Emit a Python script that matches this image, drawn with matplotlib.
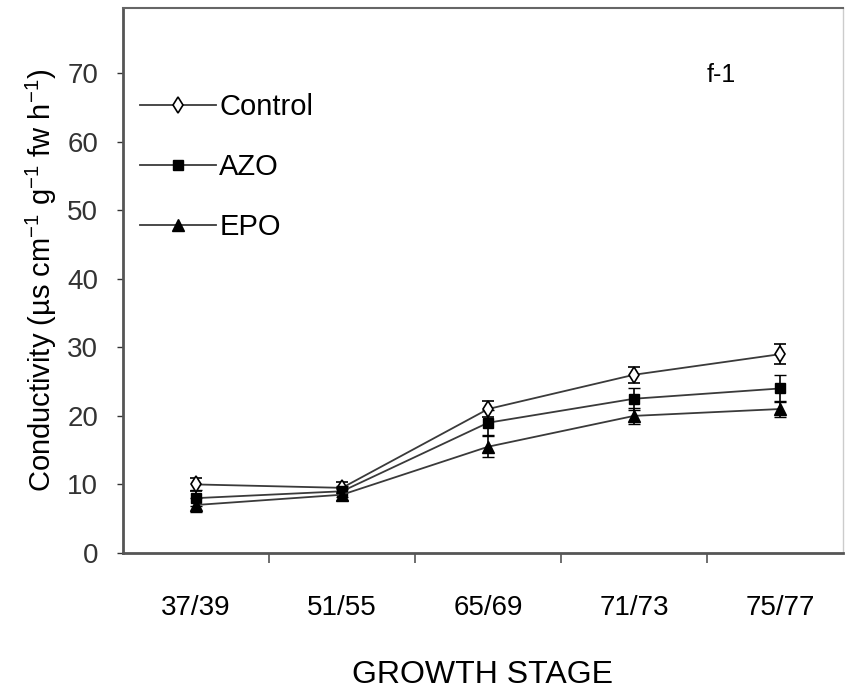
import matplotlib
matplotlib.use("Agg")
import matplotlib.pyplot as plt
from matplotlib.lines import Line2D
import numpy as np

plt.rcParams['font.family'] = ['Liberation Sans', 'DejaVu Sans']
plt.rcParams['mathtext.fontset'] = 'custom'
plt.rcParams['mathtext.rm'] = 'Liberation Sans'
plt.rcParams['mathtext.it'] = 'Liberation Sans:italic'

# data
stages = ["37/39", "51/55", "65/69", "71/73", "75/77"]
control = [10.0, 9.5, 21.0, 26.0, 29.0]
azo = [8.0, 9.0, 19.0, 22.5, 24.0]
epo = [7.0, 8.5, 15.5, 20.0, 21.0]
control_err = [1.0, 0.8, 1.2, 1.2, 1.5]
azo_err = [1.2, 0.8, 1.8, 1.6, 2.0]
epo_err = [1.0, 0.8, 1.5, 1.2, 1.2]

x = np.arange(len(stages))
lc = "#3a3a3a"

fig = plt.figure(figsize=(8.46, 6.94), dpi=100)
ax = fig.add_axes([0.1454, 0.2032, 0.851, 0.7853])

styles = [
    ("Control", control, control_err, dict(marker="d", ms=8, mfc="white", mec="black", mew=1.2)),
    ("AZO", azo, azo_err, dict(marker="s", ms=7, mfc="black", mec="black")),
    ("EPO", epo, epo_err, dict(marker="^", ms=8, mfc="black", mec="black")),
]
handles = []
for name, vals, err, mk in styles:
    ax.errorbar(x, vals, yerr=err, color=lc, lw=1.3, ecolor="black",
                elinewidth=1.2, capsize=4, **mk)
    handles.append(Line2D([], [], color=lc, lw=1.3, label=name, **mk))

ax.set_xlim(-0.5, 4.43)
ax.set_ylim(0, 79.5)
ax.set_yticks(np.arange(0, 71, 10))
ax.tick_params(axis="y", labelsize=20, length=4, width=1, pad=14, colors="#333333")
ax.set_xticks(x)
ax.set_xticklabels(stages)
ax.set_xticks(np.arange(0.5, 4.0, 1.0), minor=True)
ax.tick_params(axis="x", which="major", length=0, pad=30, labelsize=20)
ax.tick_params(axis="x", which="minor", length=7, width=1.2, color="#555555")

for s in ["left", "bottom"]:
    ax.spines[s].set_linewidth(2)
    ax.spines[s].set_color("#555555")
ax.spines["top"].set_color("#666666")
ax.spines["top"].set_linewidth(1.5)
ax.spines["right"].set_color("#cccccc")
ax.spines["right"].set_linewidth(1)

ax.set_ylabel(r"Conductivity (µs cm$^{-1}$ g$^{-1}$ fw h$^{-1}$)", fontsize=21, labelpad=6)
ax.set_xlabel("GROWTH STAGE", fontsize=23, labelpad=28)

ax.text(0.81, 0.865, "f-1", transform=ax.transAxes, fontsize=18)

ax.legend(handles=handles, loc="upper left", bbox_to_anchor=(0.008, 0.865),
          frameon=False, fontsize=21, handlelength=2.6, handletextpad=0.1,
          labelspacing=1.1, borderaxespad=0)

fig.savefig("out.png", dpi=100)
